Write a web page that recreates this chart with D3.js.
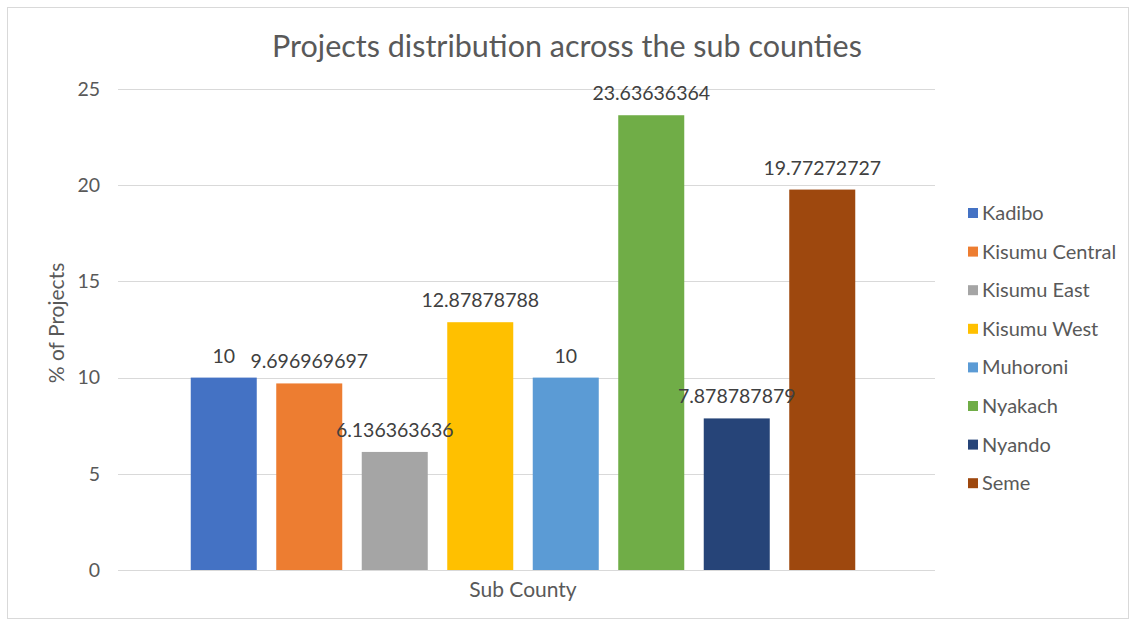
<!DOCTYPE html>
<html>
<head>
<meta charset="utf-8">
<script src="https://cdn.jsdelivr.net/npm/d3@7"></script>
<style>
  html, body { margin: 0; padding: 0; background: #ffffff; }
  svg { display: block; font-family: Lato, "Open Sans", sans-serif; }
</style>
</head>
<body>
<svg id="chart" width="1135" height="624"></svg>
<script>
const categories = ["Kadibo", "Kisumu Central", "Kisumu East", "Kisumu West", "Muhoroni", "Nyakach", "Nyando", "Seme"];
const values = [10, 9.696969697, 6.136363636, 12.87878788, 10, 23.63636364, 7.878787879, 19.77272727];
const valueLabels = ["10", "9.696969697", "6.136363636", "12.87878788", "10", "23.63636364", "7.878787879", "19.77272727"];
const colors = ["#4472C4", "#ED7D31", "#A5A5A5", "#FFC000", "#5B9BD5", "#70AD47", "#264478", "#9E480E"];
const yTicks = [0, 5, 10, 15, 20, 25];
const title = "Projects distribution across the sub counties";
const xTitle = "Sub County";
const yTitle = "% of Projects";

const svg = d3.select("#chart");

// chart border
svg.append("rect").attr("x", 7.5).attr("y", 7.5).attr("width", 1121).attr("height", 611)
  .attr("fill", "#ffffff").attr("stroke", "#d9d9d9").attr("stroke-width", 1);

const y = d3.scaleLinear().domain([0, 25]).range([570, 89]);
const x = d3.scaleBand().domain(categories).range([181, 865]).paddingInner(0.228).paddingOuter(0.114);
const color = d3.scaleOrdinal().domain(categories).range(colors);

// gridlines
svg.append("g").selectAll("line").data(yTicks).join("line")
  .attr("x1", 118).attr("x2", 935)
  .attr("y1", d => Math.round(y(d)) + 0.5).attr("y2", d => Math.round(y(d)) + 0.5)
  .attr("stroke", "#d9d9d9").attr("stroke-width", 1);

// y axis tick labels
const yAxis = d3.axisLeft(y).tickValues(yTicks).tickSize(0).tickPadding(0);
const ya = svg.append("g").attr("transform", "translate(100,0)").call(yAxis);
ya.select(".domain").remove();
ya.selectAll("text").attr("fill", "#595959").attr("font-size", 19.5).attr("font-family", "Lato, sans-serif");

// bars
svg.append("g").selectAll("rect").data(categories).join("rect")
  .attr("x", d => x(d)).attr("width", x.bandwidth())
  .attr("y", (d, i) => y(values[i])).attr("height", (d, i) => y(0) - y(values[i]))
  .attr("fill", d => color(d));

// data labels
svg.append("g").selectAll("text").data(categories).join("text")
  .attr("x", d => x(d) + x.bandwidth() / 2)
  .attr("y", (d, i) => y(values[i]) - 15)
  .attr("text-anchor", "middle").attr("font-size", 19.5).attr("fill", "#404040")
  .text((d, i) => valueLabels[i]);

// title
svg.append("text").attr("x", 567).attr("y", 57).attr("text-anchor", "middle")
  .attr("font-size", 30.5).attr("fill", "#595959").text(title);

// x title
svg.append("text").attr("x", 523).attr("y", 597).attr("text-anchor", "middle")
  .attr("font-size", 21).attr("fill", "#595959").text(xTitle);

// y title
svg.append("text").attr("transform", "translate(64,323) rotate(-90)").attr("text-anchor", "middle")
  .attr("font-size", 21).attr("fill", "#595959").text(yTitle);

// legend
const legend = svg.append("g").selectAll("g").data(categories).join("g")
  .attr("transform", (d, i) => `translate(968,${213 + i * 38.6})`);
legend.append("rect").attr("x", 0).attr("y", -5).attr("width", 10).attr("height", 10).attr("fill", d => color(d));
legend.append("text").attr("x", 14).attr("y", 7).attr("font-size", 20).attr("fill", "#595959").text(d => d);
</script>
</body>
</html>
